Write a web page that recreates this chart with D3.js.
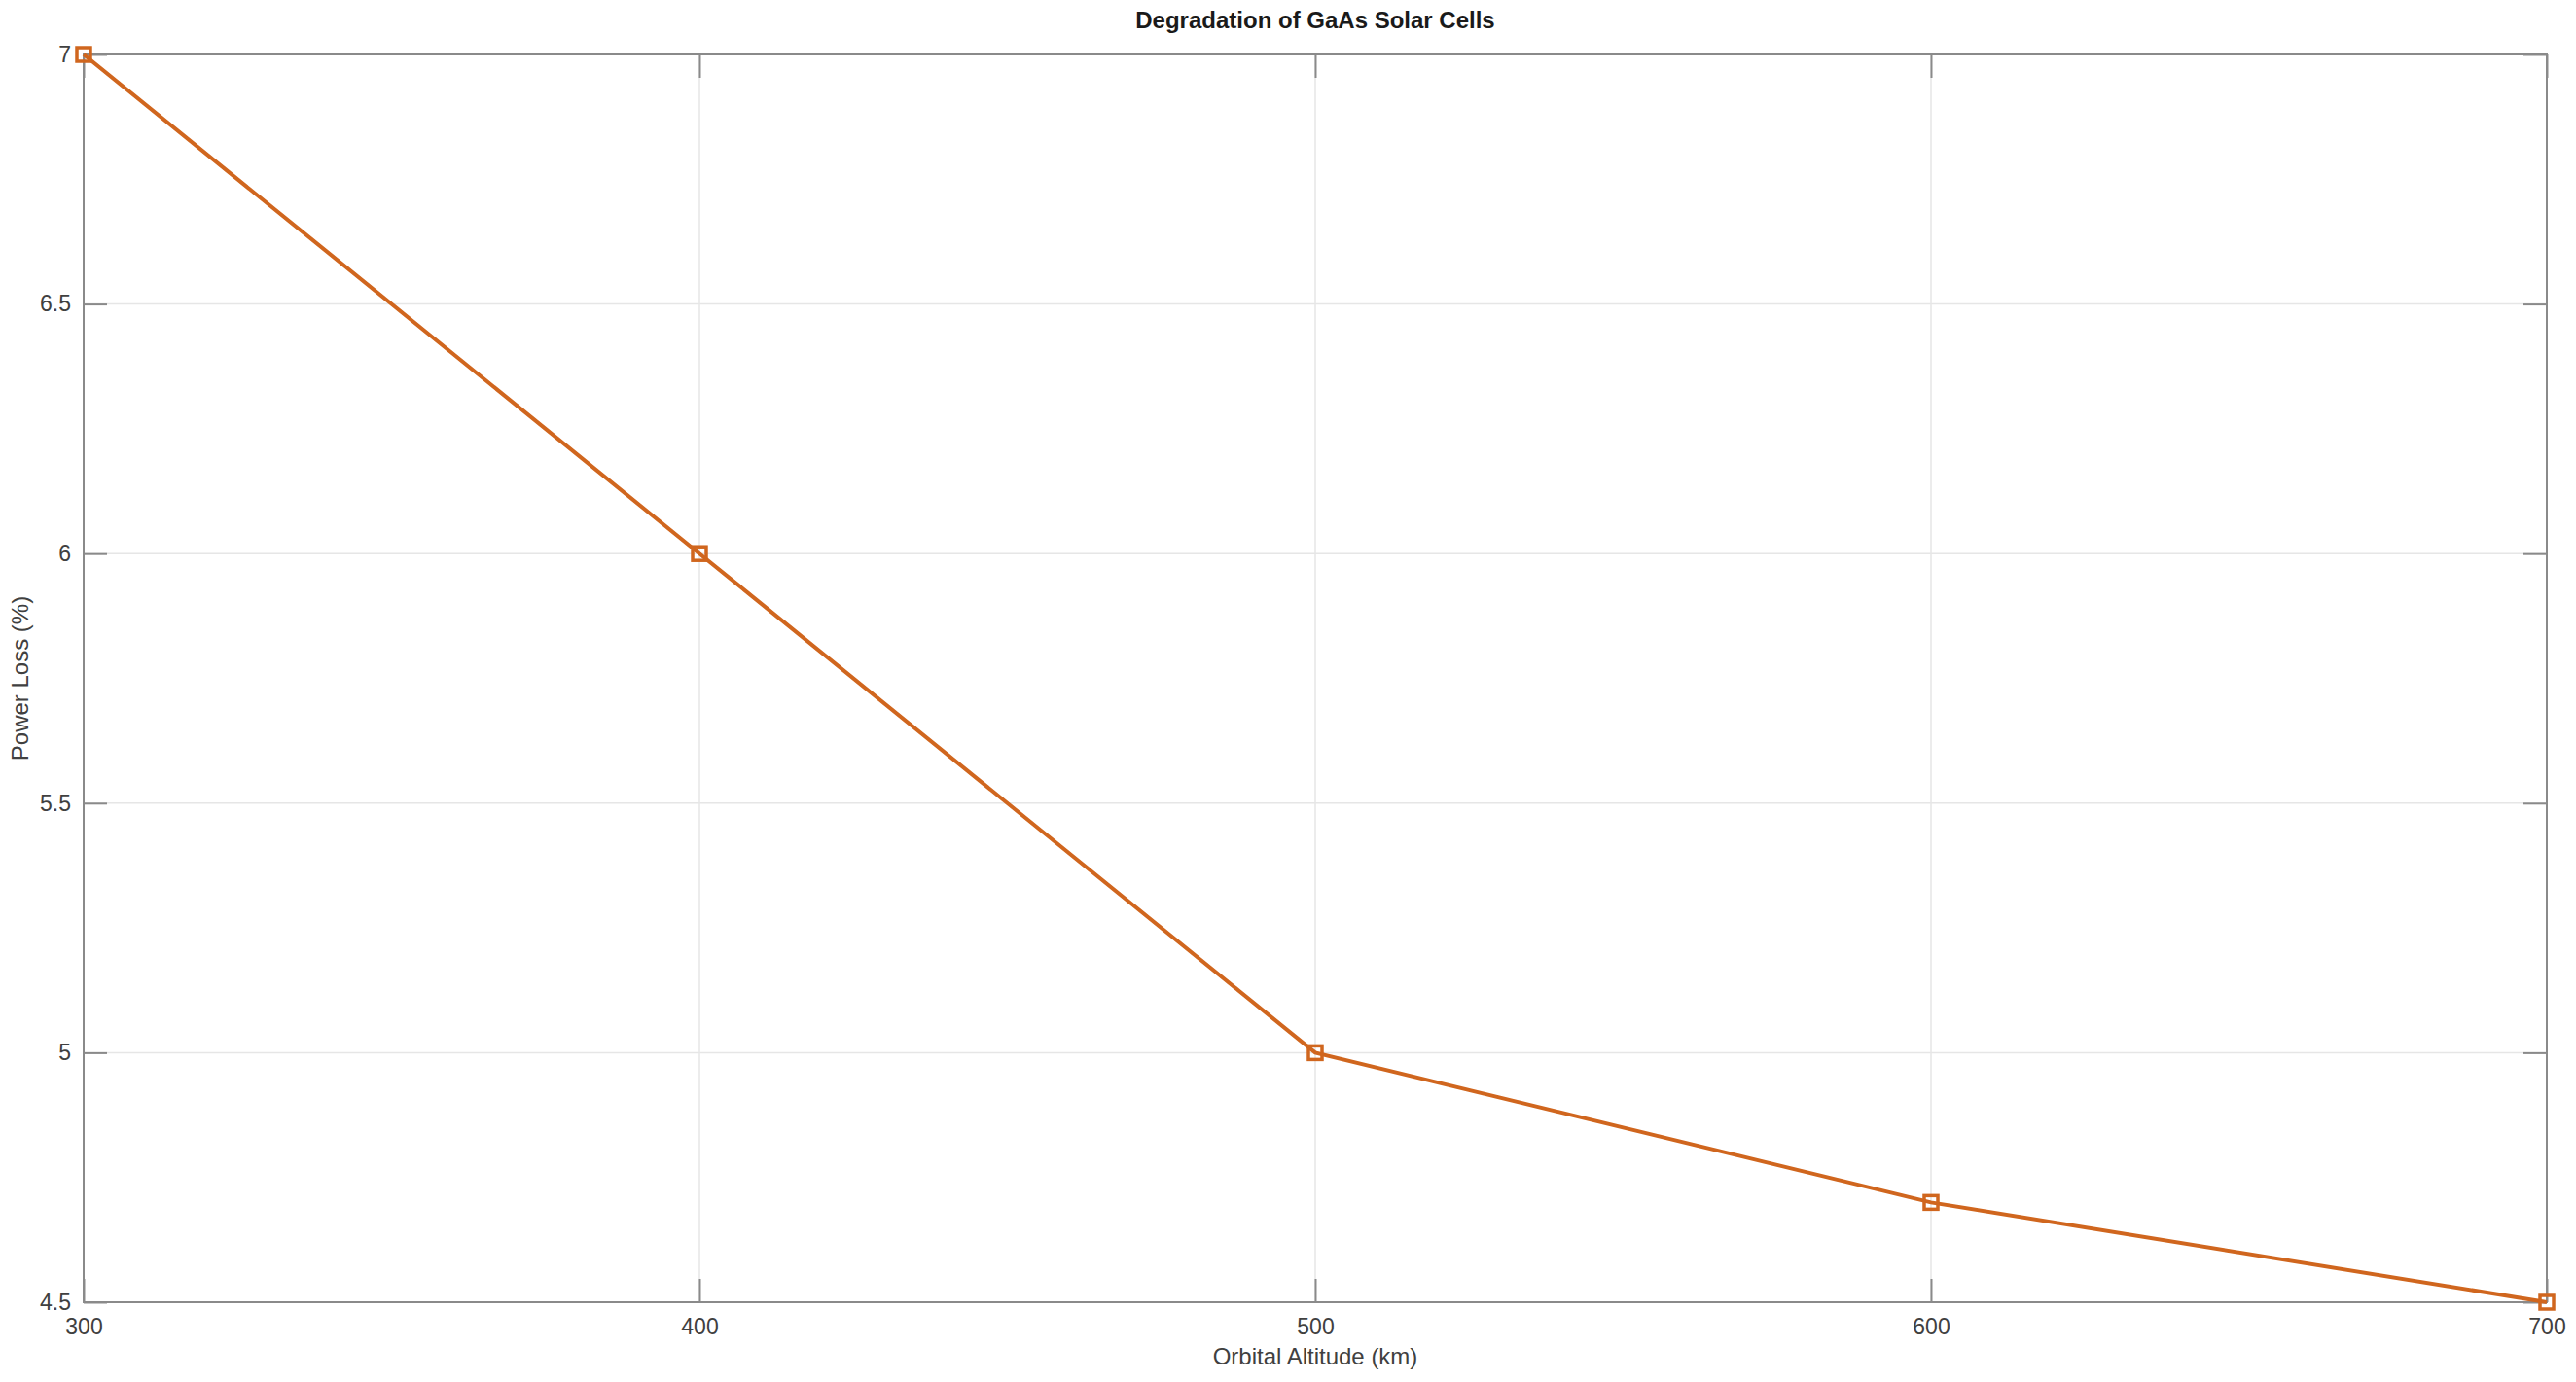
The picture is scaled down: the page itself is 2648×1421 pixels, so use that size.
<!DOCTYPE html>
<html><head><meta charset="utf-8">
<script src="https://cdn.jsdelivr.net/npm/d3@7"></script>
<style>html,body{margin:0;padding:0;background:#fff;}svg{display:block;font-family:"Liberation Sans",Arial,sans-serif;}</style>
</head><body>
<svg id="c" width="2648" height="1421"></svg>
<script>
const altitudes = [300, 400, 500, 600, 700];
const powerLoss = [7, 6, 5, 4.7, 4.5];
const xTicks = [300, 400, 500, 600, 700];
const yTicks = [4.5, 5, 5.5, 6, 6.5, 7];
const titleText = "Degradation of GaAs Solar Cells";
const xLabel = "Orbital Altitude (km)";
const yLabel = "Power Loss (%)";

const W = 2648, H = 1421;
const m = {left: 86, right: 30, top: 56, bottom: 82};
const svg = d3.select("#c");
const x = d3.scaleLinear().domain([300, 700]).range([m.left, W - m.right]);
const y = d3.scaleLinear().domain([4.5, 7]).range([H - m.bottom, m.top]);
const x0 = x.range()[0], x1 = x.range()[1], y0 = y.range()[0], y1 = y.range()[1];
const lineCol = "#D0661E";

// grid
const grid = svg.append("g").attr("stroke", "#e6e6e6").attr("stroke-width", 1.5);
grid.selectAll(".gx").data(xTicks.slice(1, -1)).join("line")
  .attr("x1", d => x(d)).attr("x2", d => x(d)).attr("y1", y1).attr("y2", y0);
grid.selectAll(".gy").data(yTicks.slice(1, -1)).join("line")
  .attr("y1", d => y(d)).attr("y2", d => y(d)).attr("x1", x0).attr("x2", x1);

// axes (box with inward ticks on all sides)
const tl = 24;
const axCol = "#8a8a8a";
const gb = svg.append("g").attr("transform", `translate(0,${y0})`)
  .call(d3.axisBottom(x).tickValues(xTicks).tickSize(-tl).tickPadding(17).tickFormat(d3.format("d")));
const gt = svg.append("g").attr("transform", `translate(0,${y1})`)
  .call(d3.axisTop(x).tickValues(xTicks).tickSize(-tl).tickFormat(""));
const gl = svg.append("g").attr("transform", `translate(${x0},0)`)
  .call(d3.axisLeft(y).tickValues(yTicks).tickSize(-tl).tickPadding(13).tickFormat(d => d3.format("")(d)));
const gr = svg.append("g").attr("transform", `translate(${x1},0)`)
  .call(d3.axisRight(y).tickValues(yTicks).tickSize(-tl).tickFormat(""));
[gb, gt, gl, gr].forEach(g => {
  g.select(".domain").attr("stroke", axCol).attr("stroke-width", 2).attr("d", null);
  g.selectAll(".tick line").attr("stroke", axCol).attr("stroke-width", 2);
  g.selectAll(".tick text").attr("fill", "#404040").attr("font-size", 23).attr("font-family", "Liberation Sans, Arial, sans-serif");
});
svg.append("rect").attr("x", x0).attr("y", y1).attr("width", x1 - x0).attr("height", y0 - y1)
  .attr("fill", "none").attr("stroke", axCol).attr("stroke-width", 2);

// line
const data = altitudes.map((a, i) => ({a, v: powerLoss[i]}));
svg.append("path").datum(data)
  .attr("fill", "none").attr("stroke", lineCol).attr("stroke-width", 4)
  .attr("d", d3.line().x(d => x(d.a)).y(d => y(d.v)));
const ms = 14;
svg.selectAll(".mk").data(data).join("rect")
  .attr("x", d => x(d.a) - ms / 2).attr("y", d => y(d.v) - ms / 2)
  .attr("width", ms).attr("height", ms)
  .attr("fill", "none").attr("stroke", lineCol).attr("stroke-width", 3.5);

// labels
svg.append("text").attr("x", (x0 + x1) / 2).attr("y", 29).attr("text-anchor", "middle")
  .attr("font-size", 24).attr("font-weight", "bold").attr("fill", "#1a1a1a").text(titleText);
svg.append("text").attr("x", (x0 + x1) / 2).attr("y", 1403).attr("text-anchor", "middle")
  .attr("font-size", 24).attr("fill", "#404040").text(xLabel);
svg.append("text").attr("transform", `translate(29,${(y0 + y1) / 2}) rotate(-90)`).attr("text-anchor", "middle")
  .attr("font-size", 24).attr("fill", "#404040").text(yLabel);
</script>
</body></html>
